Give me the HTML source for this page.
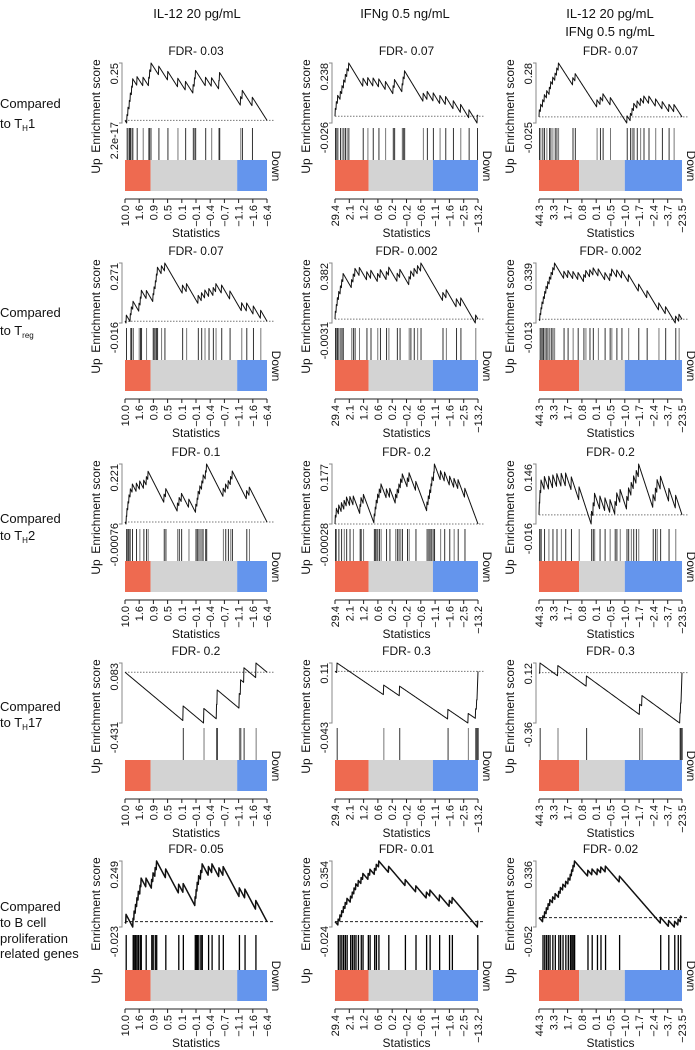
<!DOCTYPE html>
<html><head><meta charset="utf-8">
<style>
html,body{margin:0;padding:0;background:#fff;}
svg{display:block;font-family:"Liberation Sans",Arial,sans-serif;}
</style></head>
<body>
<svg id="fig" width="695" height="1050" viewBox="0 0 695 1050">
<g font-size="13" fill="#111" text-anchor="middle">
<text x="197" y="18">IL-12 20 pg/mL</text>
<text x="405" y="18">IFNg 0.5 ng/mL</text>
<text x="610" y="18">IL-12 20 pg/mL</text>
<text x="610" y="36">IFNg 0.5 ng/mL</text>
</g>
<g font-size="13" fill="#111">
<text x="0" y="108">Compared</text>
<text x="0" y="128">to T<tspan font-size="8" dy="3">H</tspan><tspan dy="-3">1</tspan></text>
<text x="0" y="317">Compared</text>
<text x="0" y="335">to T<tspan font-size="8" dy="3">reg</tspan></text>
<text x="0" y="523">Compared</text>
<text x="0" y="540">to T<tspan font-size="8" dy="3">H</tspan><tspan dy="-3">2</tspan></text>
<text x="0" y="711">Compared</text>
<text x="0" y="727">to T<tspan font-size="8" dy="3">H</tspan><tspan dy="-3">17</tspan></text>
<text x="0" y="911">Compared</text>
<text x="0" y="927">to B cell</text>
<text x="0" y="943">proliferation</text>
<text x="0" y="958">related genes</text>
</g>
</svg>
<script>
// ---- data ----
const fdrValues = [["0.03","0.07","0.07"],["0.07","0.002","0.002"],["0.1","0.2","0.2"],["0.2","0.3","0.3"],["0.05","0.01","0.02"]];
const yMaxLabels = [["0.25","0.238","0.28"],["0.271","0.382","0.339"],["0.221","0.177","0.146"],["0.083","0.11","0.12"],["0.249","0.354","0.336"]];
const yMinLabels = [["2.2e-17","-0.026","-0.025"],["-0.016","-0.0031","-0.013"],["-0.00076","-0.00028","-0.016"],["-0.431","-0.043","-0.36"],["-0.023","-0.024","-0.052"]];
const statTicks1 = ["10.0","1.6","0.9","0.5","0.1","\u22120.1","\u22120.4","\u22120.7","\u22121.1","\u22121.6","\u22126.4"];
const statTicks2 = ["29.4","2.1","1.2","0.6","0.2","\u22120.2","\u22120.6","\u22121.1","\u22121.6","\u22122.5","\u221213.2"];
const statTicks3 = ["44.3","3.3","1.7","0.8","0.1","\u22120.5","\u22121.0","\u22121.7","\u22122.4","\u22123.7","\u221223.5"];
const upFraction = [0.18, 0.235, 0.28];
const downFraction = [0.79, 0.685, 0.6];
const listSizes = [[425,428,427],[425,423,425],[425,423,425],[425,423,425],[405,405,407]];
const hits_r1c1 = [5,8,12,15,19,22,35,53,70,73,77,100,127,157,180,203,207,210,240,258,280,282,345,350,380];
const hits_r1c2 = [0,3,7,15,20,25,30,35,40,83,97,113,130,150,173,177,200,203,207,263,275,293,313,330,353,375,400,425];
const hits_r1c3 = [0,4,10,15,22,30,34,40,47,52,57,100,107,172,182,190,212,262,272,277,282,292,302,312,327,347,367,387,402];
const hits_r2c1 = [3,15,18,23,41,45,48,63,83,86,90,93,96,108,118,171,183,218,228,238,250,263,271,288,313,348,363,383,405];
const hits_r2c2 = [0,3,6,10,15,19,23,48,53,58,71,93,105,125,133,151,158,183,191,218,223,233,243,253,318,328,358,371,415];
const hits_r2c3 = [2,5,8,12,16,20,25,30,35,40,45,73,85,100,115,132,138,150,160,175,195,210,215,230,245,265,295,320,355,375,405,415];
const hits_r3c1 = [3,5,8,11,15,21,33,43,55,63,68,116,121,156,161,168,190,211,215,218,223,229,233,240,243,293,300,308,315,320,363,371];
const hits_r3c2 = [0,3,10,18,26,33,43,53,73,76,83,115,118,121,125,130,135,151,161,178,183,188,193,198,213,218,238,271,275,279,283,286,291,293,311,323,338,351,363,383];
const hits_r3c3 = [0,2,5,15,28,40,52,65,78,95,118,155,160,164,180,195,210,225,230,240,260,265,273,280,288,295,338,345,350,360,385,405];
const hits_r4c1 = [173,235,273,275,341,345,355,391];
const hits_r4c2 = [5,143,190,333,393,415,418,420,421,422];
const hits_r4c3 = [2,55,140,298,305,418,420,422,423,424];
const hits_r5c1 = [2,22,25,29,33,37,42,45,59,75,79,85,89,115,152,165,199,202,205,209,215,219,237,247,267,279,325,341,372];
const hits_r5c2 = [8,13,18,23,28,33,43,48,53,58,65,73,78,93,98,111,116,123,151,198,228,258,268,295,323,331,403];
const hits_r5c3 = [10,15,20,25,30,38,45,55,60,67,75,82,88,92,96,100,138,150,165,175,188,228,345,368,385,395,402];
const hitSets = [[hits_r1c1,hits_r1c2,hits_r1c3],[hits_r2c1,hits_r2c2,hits_r2c3],[hits_r3c1,hits_r3c2,hits_r3c3],[hits_r4c1,hits_r4c2,hits_r4c3],[hits_r5c1,hits_r5c2,hits_r5c3]];
const tickSets = [statTicks1, statTicks2, statTicks3];

// ---- layout ----
const NS = "http://www.w3.org/2000/svg";
const svg = document.getElementById("fig");
const colX0 = [125, 335, 539], colX1 = [267, 478, 682];
const rowTop = [63, 263, 464, 663, 861];
function mk(tag, attrs, parent, txt){
  const e = document.createElementNS(NS, tag);
  for (const k in attrs) e.setAttribute(k, attrs[k]);
  if (txt !== undefined) e.textContent = txt;
  parent.appendChild(e);
  return e;
}
function runningES(hits, N){
  const set = new Set(hits); const k = set.size;
  let es = 0; const pts = [0];
  for (let i = 0; i < N; i++){ es += set.has(i) ? 1/k : -1/(N-k); pts.push(es); }
  return pts;
}
for (let r = 0; r < 5; r++){
  for (let c = 0; c < 3; c++){
    const x0 = colX0[c], x1 = colX1[c], top = rowTop[r];
    const last = r === 4;
    const esH = last ? 66 : 60;
    const barTop = top + (last ? 109 : 97), barH = 31;
    const N = listSizes[r][c];
    const hits = hitSets[r][c];
    const g = mk("g", {}, svg);
    
    
    const xs = i => x0 + (x1 - x0) * i / N;
    const pts = runningES(hits, N);
    const mx = Math.max(...pts), mn = Math.min(0, ...pts);
    const ys = v => top + esH * (mx - v) / (mx - mn);
    const t = mk("text", {x:(x0+x1)/2, y: top-8, "text-anchor":"middle", "font-size":12, fill:"#111"}, g, "FDR- " + fdrValues[r][c]);
    
    
    const ax = x0 - 3;
    mk("path", {d:`M${ax-3},${top}H${ax}V${top+esH}H${ax-3}`, fill:"none", stroke:"#888", "stroke-width":1}, g);
    const l1 = mk("text", {transform:`translate(${x0-7},${top}) rotate(-90)`, "text-anchor":"end", "font-size":11, fill:"#111"}, g, yMaxLabels[r][c]);
    
    
    const l2 = mk("text", {transform:`translate(${x0-7},${top+esH-1}) rotate(-90)`, "text-anchor":"end", "font-size":11, fill:"#111"}, g, yMinLabels[r][c]);
    
    
    const yl = mk("text", {transform:`translate(${x0-25},${top+43}) rotate(-90)`, "text-anchor":"middle", "font-size":12, fill:"#111"}, g, "Enrichment score");
    
    
    const z = ys(0);
    const zl = mk("line", {x1:x0, x2:x1+7, y1:z, y2:z, stroke: last?"#222":"#777", "stroke-width":1, "stroke-dasharray": last?"3,2":"1.5,1.5"}, g);
    
    
    let d = "";
    pts.forEach((v,i) => { d += (i?"L":"M") + xs(i).toFixed(2) + "," + ys(v).toFixed(2); });
    const cv = mk("path", {d, fill:"none", stroke:"#111", "stroke-width": last?1.5:1, "stroke-linejoin":"round"}, g);
    
    
    const hy0 = top + esH + (last?8:5);
    hits.forEach((h, i) => {
      const hx = xs(h) + 0.5;
      const hl = mk("line", {x1:hx, x2:hx, y1:hy0, y2:barTop, stroke: last?"#000":(i%3===1?"#777":"#333"), "stroke-width": last?1.3:1}, g);
      
      
    });
    const xu = x0 + (x1-x0)*upFraction[c], xd = x0 + (x1-x0)*downFraction[c];
    const b1 = mk("rect", {x:x0, y:barTop, width:xu-x0, height:barH, fill:"#ee6a50"}, g);
    
    
    const b2 = mk("rect", {x:xu, y:barTop, width:xd-xu, height:barH, fill:"#d3d3d3"}, g);
    
    
    const b3 = mk("rect", {x:xd, y:barTop, width:x1-xd, height:barH, fill:"#6495ed"}, g);
    
    
    const up = mk("text", {transform:`translate(${x0-25},${barTop+6}) rotate(-90)`, "text-anchor":"middle", "font-size":12, fill:"#111"}, g, "Up");
    
    
    const dn = mk("text", {transform:`translate(${x1+5},${barTop+6}) rotate(90)`, "text-anchor":"middle", "font-size":12, fill:"#111"}, g, "Down");
    
    
    const xa = barTop + barH + 8;
    const ticks = tickSets[c];
    mk("line", {x1:x0, x2:x1, y1:xa, y2:xa, stroke:"#222", "stroke-width":1}, g);
    ticks.forEach((lab, i) => {
      const tx = x0 + (x1-x0)*i/(ticks.length-1);
      mk("line", {x1:tx, x2:tx, y1:xa, y2:xa+4, stroke:"#222", "stroke-width":1}, g);
      const tl = mk("text", {transform:`translate(${tx+4},${xa+6}) rotate(-90)`, "text-anchor":"end", "font-size":11, fill:"#111"}, g, lab);
      
      
    });
    const xt = mk("text", {x:(x0+x1)/2, y: xa+38, "text-anchor":"middle", "font-size":12, fill:"#111"}, g, "Statistics");
    
    
  }
}
</script>
</body></html>
